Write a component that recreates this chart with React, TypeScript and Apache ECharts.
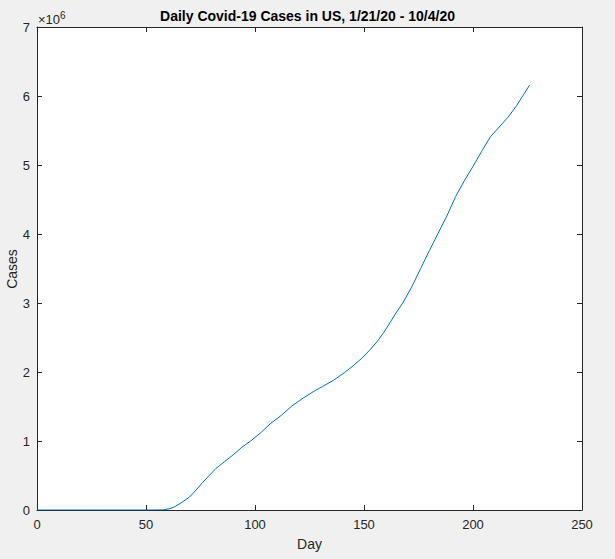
import React, { useEffect, useRef } from "react";
import * as echarts from "echarts";

const days = [0, 10, 20, 30, 40, 50, 55, 58, 61, 63, 66, 70, 73, 76, 79, 82, 86, 90, 94, 98, 103, 107, 112, 117, 122, 127, 131, 136, 141, 145, 149, 153, 156, 159, 162, 165, 168, 172, 176, 180, 184, 188, 192, 196, 200, 204, 208, 212, 216, 220, 223, 226];
const casesMillions = [0, 0.00001, 0.00001, 0.00002, 0.0001, 0.0003, 0.0008, 0.003, 0.02, 0.045, 0.1, 0.19, 0.29, 0.4, 0.5, 0.6, 0.7, 0.8, 0.91, 1.0, 1.13, 1.25, 1.37, 1.51, 1.62, 1.72, 1.79, 1.88, 1.99, 2.09, 2.2, 2.33, 2.44, 2.57, 2.72, 2.87, 3.01, 3.24, 3.5, 3.76, 4.01, 4.26, 4.54, 4.77, 4.98, 5.2, 5.41, 5.55, 5.69, 5.86, 6.01, 6.16];
const xTicks = [0, 50, 100, 150, 200, 250];
const yTicks = [0, 1, 2, 3, 4, 5, 6, 7];

const title = "Daily Covid-19 Cases in US, 1/21/20 - 10/4/20";
const xLabel = "Day";
const yLabel = "Cases";

export default function App() {
  const ref = useRef<HTMLDivElement>(null);
  useEffect(() => {
    if (!ref.current) return;
    const chart = echarts.init(ref.current, undefined, { renderer: "svg" });
    const font = "Liberation Sans, Arial, sans-serif";
    const axisColor = "#262626";
    const data = days.map((d, i) => [d, casesMillions[i] * 1e6]);
    const tick = () => ({ show: true, inside: true, length: 5, lineStyle: { color: axisColor, width: 1 } });
    chart.setOption({
      animation: false,
      backgroundColor: "#f0f0f0",
      textStyle: { fontFamily: font },
      title: {
        text: title,
        left: "center",
        top: 4,
        textStyle: { fontFamily: font, fontSize: 14, fontWeight: "bold", color: "#000" },
      },
      grid: {
        left: 37,
        right: 33,
        top: 27,
        bottom: 49,
        containLabel: false,
        outerBoundsMode: "none",
        show: true,
        backgroundColor: "#ffffff",
        borderWidth: 0,
      },
      xAxis: [
        {
          type: "value",
          min: xTicks[0],
          max: xTicks[xTicks.length - 1],
          interval: 50,
          name: xLabel,
          nameLocation: "middle",
          nameGap: 27,
          nameTextStyle: { fontFamily: font, fontSize: 14, color: axisColor },
          axisLine: { show: true, lineStyle: { color: axisColor, width: 1 } },
          axisTick: tick(),
          axisLabel: { fontFamily: font, fontSize: 13, color: axisColor, margin: 8 },
          splitLine: { show: false },
        },
        {
          type: "value",
          position: "top",
          min: xTicks[0],
          max: xTicks[xTicks.length - 1],
          interval: 50,
          axisLine: { show: true, onZero: false, lineStyle: { color: axisColor, width: 1 } },
          axisTick: tick(),
          axisLabel: { show: false },
          splitLine: { show: false },
        },
      ],
      yAxis: [
        {
          type: "value",
          min: yTicks[0] * 1e6,
          max: yTicks[yTicks.length - 1] * 1e6,
          interval: 1e6,
          axisLine: { show: true, lineStyle: { color: axisColor, width: 1 } },
          axisTick: tick(),
          axisLabel: {
            fontFamily: font,
            fontSize: 13,
            color: axisColor,
            margin: 7,
            formatter: (v: number) => String(Math.round(v / 1e6)),
          },
          splitLine: { show: false },
        },
        {
          type: "value",
          position: "right",
          min: yTicks[0] * 1e6,
          max: yTicks[yTicks.length - 1] * 1e6,
          interval: 1e6,
          axisLine: { show: true, onZero: false, lineStyle: { color: axisColor, width: 1 } },
          axisTick: tick(),
          axisLabel: { show: false },
          splitLine: { show: false },
        },
      ],
      graphic: [
        {
          type: "text",
          left: 38,
          top: 10,
          style: {
            text: "{a|×10}{b|6}",
            rich: {
              a: { fontFamily: font, fontSize: 13, fill: axisColor, verticalAlign: "bottom" },
              b: { fontFamily: font, fontSize: 10, fill: axisColor, verticalAlign: "top", padding: [0, 0, 6, 0] },
            },
          },
        },
        {
          type: "text",
          x: 12,
          y: 269,
          rotation: Math.PI / 2,
          style: {
            text: yLabel,
            fontFamily: font,
            fontSize: 14,
            fill: axisColor,
            align: "center",
            verticalAlign: "middle",
          },
        },
      ],
      series: [
        {
          type: "line",
          data,
          xAxisIndex: 0,
          yAxisIndex: 0,
          showSymbol: false,
          symbol: "none",
          lineStyle: { color: "#0072BD", width: 1 },
          clip: true,
          z: 3,
        },
        {
          type: "line",
          data: [],
          xAxisIndex: 1,
          yAxisIndex: 1,
          symbol: "none",
        },
      ],
    });
    return () => chart.dispose();
  }, []);
  return (
    <div
      ref={ref}
      style={{ position: "fixed", left: 0, top: 0, width: 615, height: 559 }}
    />
  );
}
